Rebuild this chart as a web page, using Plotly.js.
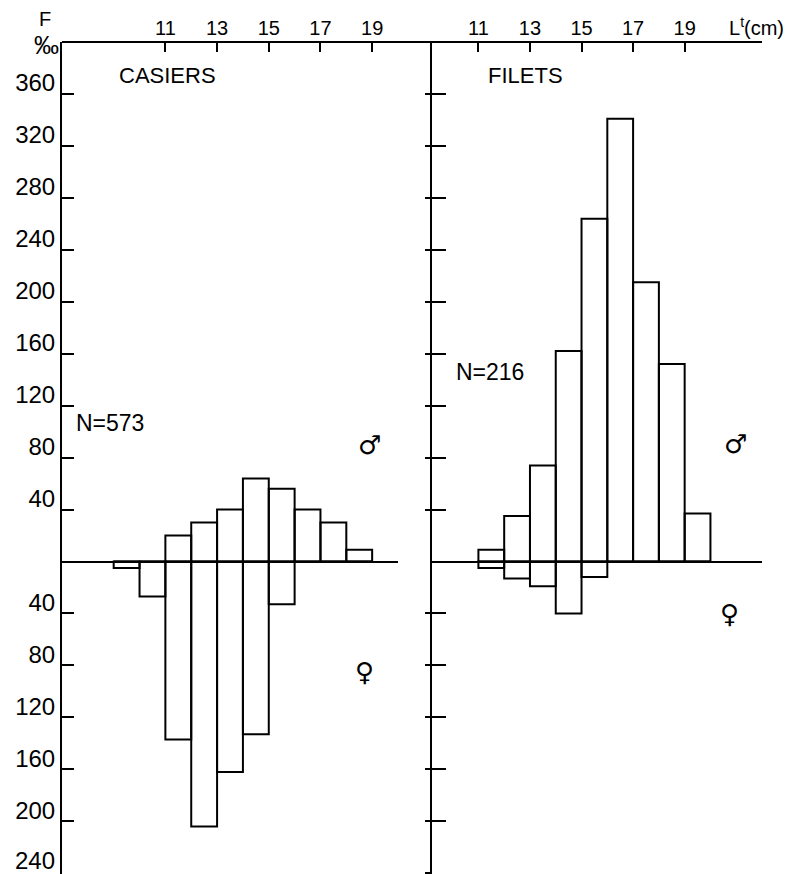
<!DOCTYPE html>
<html>
<head>
<meta charset="utf-8">
<script src="https://cdn.plot.ly/plotly-3.0.1.min.js"></script>
<style>html,body{margin:0;padding:0;background:#fff;}#chart{width:788px;height:874px;}</style>
</head>
<body>
<div id="chart"></div>
<script>
// ---- data ----
const casiersBins = [9, 10, 11, 12, 13, 14, 15, 16, 17, 18];
const casiersMales = [0, 0, 20, 30, 40, 64, 56, 40, 30, 9];
const casiersFemales = [5, 27, 137, 204, 162, 133, 33, 0, 0, 0];

const filetsBins = [11, 12, 13, 14, 15, 16, 17, 18, 19];
const filetsMales = [9, 35, 74, 162, 264, 341, 215, 152, 37];
const filetsFemales = [5, 13, 19, 40, 12, 0, 0, 0, 0];

const xTickVals = [11, 13, 15, 17, 19];
const yTickVals = [-240, -200, -160, -120, -80, -40, 40, 80, 120, 160, 200, 240, 280, 320, 360];
const yTickText = yTickVals.map(v => String(Math.abs(v)));
const yBottomVal = -240;   // its label is drawn as an annotation (edge of the page)

// ---- geometry ----
const W = 788, H = 874;
const px = x => x / W;
const py = y => 1 - y / H;
const FONT = 'Liberation Sans, Arial, sans-serif';

function barTrace(bins, vals, sign, xa, ya) {
  return {
    type: 'bar', x: bins, y: vals.map(v => sign * v), width: 1, offset: 0,
    base: 0, xaxis: xa, yaxis: ya,
    marker: {color: 'rgba(255,255,255,0)', line: {color: '#000', width: 2}},
    hoverinfo: 'skip'
  };
}

const data = [
  barTrace(casiersBins, casiersMales, 1, 'x', 'y'),
  barTrace(casiersBins, casiersFemales, -1, 'x', 'y'),
  barTrace(filetsBins, filetsMales, 1, 'x2', 'y2'),
  barTrace(filetsBins, filetsFemales, -1, 'x2', 'y2'),
  {type: 'scatter', x: [], y: [], xaxis: 'x2', yaxis: 'y3', hoverinfo: 'skip'}
];

const yDomain = [0, (H - 42) / H];
const yRange = [-240.6, 400];

const xCommon = {
  side: 'top', tickvals: xTickVals, ticks: 'inside', ticklen: 10, tickwidth: 2,
  tickcolor: '#000', showline: false, showgrid: false, zeroline: false,
  ticklabelstandoff: 2,
  tickfont: {family: FONT, size: 20, color: '#000'}, fixedrange: true
};

const layout = {
  width: W, height: H,
  margin: {l: 0, r: 0, t: 0, b: 0},
  paper_bgcolor: '#fff', plot_bgcolor: 'rgba(0,0,0,0)',
  showlegend: false, barmode: 'overlay',
  font: {family: FONT, color: '#000'},
  xaxis: Object.assign({}, xCommon, {domain: [px(62), px(398)], range: [7, 20], anchor: 'y'}),
  xaxis2: Object.assign({}, xCommon, {domain: [px(432), px(762)], range: [9.2, 22.0], anchor: 'y2'}),
  yaxis: {
    domain: yDomain, range: yRange, anchor: 'x',
    tickvals: yTickVals,
    ticktext: yTickVals.map((v, i) => v === yBottomVal ? '' : yTickText[i]),
    ticks: 'inside', ticklen: 12, tickwidth: 2,
    tickcolor: '#000', showline: true, linewidth: 2, linecolor: '#000',
    zeroline: true, zerolinewidth: 2, zerolinecolor: '#000', showgrid: false,
    ticklabelshift: -11, ticklabelstandoff: 0,
    tickfont: {family: FONT, size: 24, color: '#000'}, fixedrange: true
  },
  yaxis2: {
    domain: yDomain, range: yRange, anchor: 'x2',
    tickvals: yTickVals, ticks: 'inside', ticklen: 14, tickwidth: 2, tickcolor: '#000',
    showticklabels: false, showline: true, linewidth: 2, linecolor: '#000',
    zeroline: true, zerolinewidth: 2, zerolinecolor: '#000', showgrid: false, fixedrange: true
  },
  yaxis3: {
    overlaying: 'y2', range: yRange, anchor: 'x2',
    tickvals: yTickVals, ticks: 'outside', ticklen: 6, tickwidth: 2, tickcolor: '#000',
    showticklabels: false, showline: false, zeroline: false, showgrid: false, fixedrange: true
  },
  shapes: [
    {type: 'line', xref: 'paper', yref: 'paper', x0: px(62), x1: px(762), y0: py(42), y1: py(42),
     line: {color: '#000', width: 2}}
  ],
  annotations: [
    {text: 'F', x: px(45), y: py(19), size: 20},
    {text: '‰', x: px(46), y: py(45), size: 25},
    {text: 'L<sup>t</sup>(cm)', x: px(756), y: py(26), size: 20},
    {text: 'CASIERS', x: px(167), y: py(75), size: 22},
    {text: 'FILETS', x: px(525), y: py(75), size: 22},
    {text: 'N=573', x: px(110), y: py(423), size: 23},
    {text: 'N=216', x: px(490), y: py(372), size: 23},
    {text: '♂', x: px(369), y: py(445), size: 26, fam: 'DejaVu Sans'},
    {text: '♂', x: px(735), y: py(444), size: 26, fam: 'DejaVu Sans'},
    {text: '♀', x: px(364), y: py(672), size: 26, fam: 'DejaVu Sans'},
    {text: '♀', x: px(729), y: py(614), size: 26, fam: 'DejaVu Sans'}
  ].map(a => ({
    text: a.text, x: a.x, y: a.y, xref: 'paper', yref: 'paper',
    xanchor: 'center', yanchor: 'middle', showarrow: false,
    font: {family: a.fam || FONT, size: a.size, color: '#000'}
  })).concat([{
    text: String(Math.abs(yBottomVal)), x: 0, y: yBottomVal, xref: 'paper', yref: 'y',
    xanchor: 'right', yanchor: 'middle', xshift: 56, yshift: 13, borderpad: 0, showarrow: false,
    font: {family: FONT, size: 24, color: '#000'}
  }])
};

Plotly.newPlot('chart', data, layout, {staticPlot: true, displayModeBar: false});
</script>
</body>
</html>
